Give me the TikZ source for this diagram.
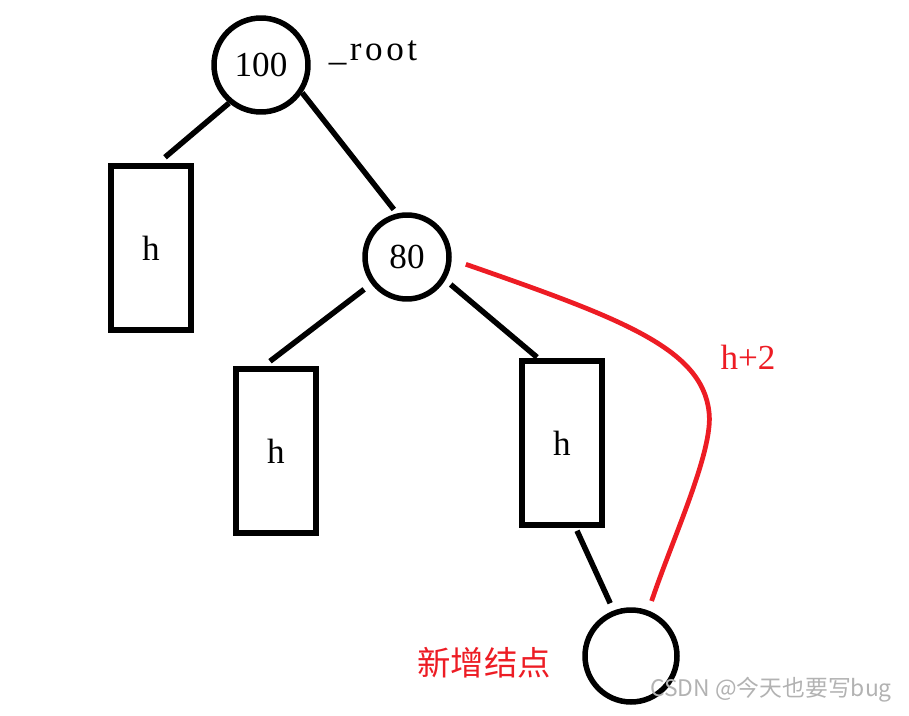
\documentclass[tikz,border=0pt]{standalone}
\usepackage{fontspec}
\setmainfont{Liberation Serif}
\newfontfamily\cjk{Noto Sans CJK SC}
\usetikzlibrary{calc}
\definecolor{paintred}{RGB}{237,28,36}
\tikzset{
    bnode/.style={circle, draw, line width=1.1mm, inner sep=0pt,
                  font=\fontsize{20}{24}\selectfont},
    hbox/.style={rectangle, draw, line width=1.1mm, minimum width=1.6cm,
                 minimum height=3.28cm, inner sep=0pt,
                 font=\fontsize{20}{24}\selectfont},
    edge/.style={line width=1.1mm},
    hpath/.style={draw=paintred, line width=0.95mm},
    note/.style={font=\fontsize{20}{24}\selectfont},
}
\begin{document}
\begin{tikzpicture}[x=0.02cm, y=-0.02cm]
    \useasboundingbox (0,0) rectangle (909,716);

    \node[bnode, minimum size=1.88cm] (root) at (261,65) {100};
    \node[note, anchor=base, font=\fontsize{20}{24}\addfontfeature{LetterSpace=10}] (rootname) at (373,61) {\_root};
    \node[hbox] (hleft) at (151,248) {h};
    \node[bnode, minimum size=1.68cm] (n80) at (407,257) {80};
    \node[hbox] (hmid) at (276,451) {h};
    \node[hbox] (hright) at (562,443) {h};
    \node[bnode, minimum size=1.84cm] (new) at (631,656) {};

    \draw[edge] (root.230) -- ($(hleft.north)+(14,-6)$);
    \draw[edge, shorten >=1mm] (root.326) -- (n80.103);
    \draw[edge, shorten <=1.8mm] (n80.217) -- ($(hmid.north)+(-6,-5)$);
    \draw[edge, shorten <=1.4mm] (n80.329) -- ($(hright.north)+(-25,-1)$);
    \draw[edge, shorten >=1.6mm] ($(hright.south)+(15,3)$) -- (new.111);
    \draw[hpath, shorten <=3mm, shorten >=2mm] (n80.357)
        .. controls (620,318) and (702,348) .. (709,412)
        .. controls (714,450) and (672,540) .. (new.69);

    \node[note, text=paintred] (hlen) at (748,357) {h+2};
    \node[text=paintred, font=\cjk\fontsize{19}{23}\selectfont] (newname) at (484,663) {新增结点};
    \node[text=black!30, font=\cjk\fontsize{13}{16}\selectfont] (mark) at (771,690) {CSDN @今天也要写bug};

\end{tikzpicture}
\end{document}
